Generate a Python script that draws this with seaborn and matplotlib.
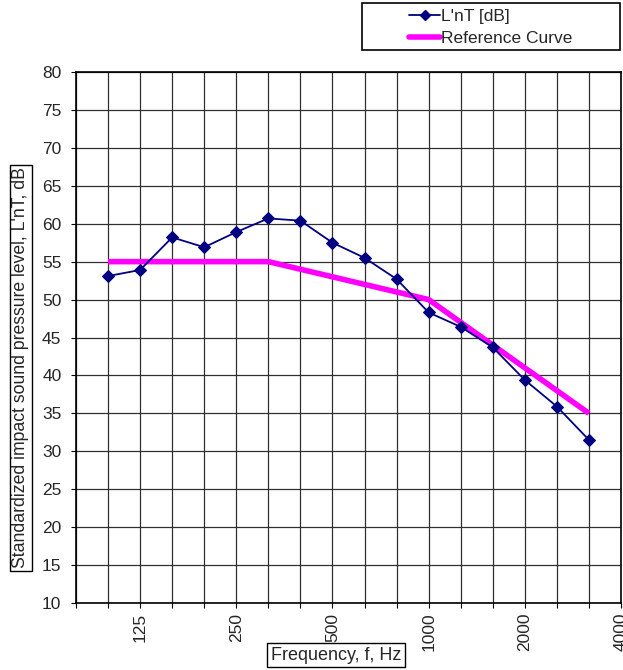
import numpy as np
import pandas as pd
import matplotlib
matplotlib.use("Agg")
import matplotlib.pyplot as plt
from matplotlib.patches import Rectangle
from matplotlib.lines import Line2D
import seaborn as sns

# Data
bands = ["100", "125", "160", "200", "250", "315", "400", "500",
         "630", "800", "1000", "1250", "1600", "2000", "2500", "3150"]
lnt = [53.1, 53.9, 58.2, 56.9, 58.9, 60.7, 60.4, 57.5,
       55.5, 52.7, 48.3, 46.4, 43.7, 39.4, 35.9, 31.5]
ref_curve = [55, 55, 55, 55, 55, 55, 54, 53, 52, 51, 50, 47, 44, 41, 38, 35]
axis_bands = ["80"] + bands + ["4000"]
label_bands = ["125", "250", "500", "1000", "2000", "4000"]
yticks = list(range(10, 81, 5))

sns.set_style("white")
plt.rcParams["font.family"] = ["Liberation Sans", "DejaVu Sans"]

FS = 12.5

df = pd.DataFrame({"pos": np.arange(len(bands)), "band": bands,
                   "LnT": lnt, "Ref": ref_curve})

fig = plt.figure(figsize=(6.23, 6.70), dpi=100)
ax = fig.add_axes([76 / 623, 1 - 603 / 670, 545 / 623, 531 / 670])

sns.lineplot(data=df, x="pos", y="Ref", ax=ax, color="#FF00FF", linewidth=4,
             solid_capstyle="butt", zorder=3)
sns.lineplot(data=df, x="pos", y="LnT", ax=ax, color="#000080", linewidth=1.3,
             marker="D", markersize=6, markeredgecolor="#000080", zorder=4)

ax.set_xlim(-1, len(bands))
ax.set_ylim(10, 80)
ax.set_yticks(yticks)
ax.set_yticklabels([str(v) for v in yticks], fontsize=FS)

grid_pos = [axis_bands.index(b) - 1 for b in axis_bands]
ax.set_xticks(grid_pos, minor=True)
ax.set_xticks([axis_bands.index(b) - 1 for b in label_bands])
ax.set_xticklabels(label_bands, rotation=90, fontsize=FS)
ax.tick_params(axis="x", which="both", direction="out", length=3.5, width=0.8,
               color="black", bottom=True, pad=3.5)
ax.tick_params(axis="y", direction="out", length=3.5, width=0.8, color="black",
               left=True, pad=7)
ax.grid(True, which="both", axis="x", color="#303030", linewidth=0.9)
ax.grid(True, which="major", axis="y", color="#303030", linewidth=0.9)
ax.set_axisbelow(True)
for s in ax.spines.values():
    s.set_color("black")
    s.set_linewidth(1.2)

ax.set_xlabel("")
ax.set_ylabel("")
fig.text(336 / 623, 1 - 655 / 670, "Frequency, f, Hz", fontsize=13,
         ha="center", va="center",
         bbox=dict(boxstyle="square,pad=0.2", fc="white", ec="black", lw=1))
fig.text(21 / 623, 1 - 368 / 670,
         "Standardized impact sound pressure level, L'nT, dB", fontsize=12.7,
         rotation=90, ha="center", va="center",
         bbox=dict(boxstyle="square,pad=0.15", fc="white", ec="black", lw=1))

# Legend box
fig.patches.append(Rectangle((362 / 623, 1 - 50 / 670), 258 / 623, 47 / 670,
                             transform=fig.transFigure, fc="white", ec="black",
                             lw=1.2, zorder=5))
handles = [Line2D([], [], color="#000080", lw=1.3, marker="D", markersize=5),
           Line2D([], [], color="#FF00FF", lw=4)]
fig.legend(handles, ["L'nT [dB]", "Reference Curve"], loc="upper left",
           bbox_to_anchor=(409 / 623, 1 - 9 / 670), frameon=False, fontsize=FS,
           handlelength=1.8, handletextpad=0.05, labelspacing=0.4,
           borderaxespad=0.0, borderpad=0.0)

fig.savefig("out.png", dpi=100)
